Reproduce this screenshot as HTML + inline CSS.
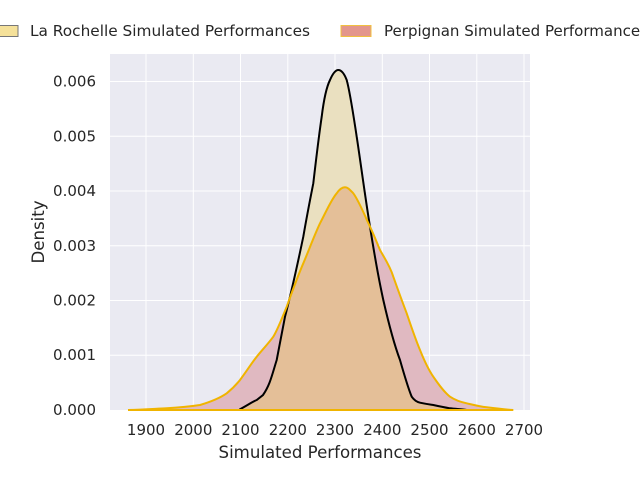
<!DOCTYPE html>
<html><head><style>body{margin:0;background:#fff}svg{display:block;font-family:"DejaVu Sans","Liberation Sans",sans-serif}</style></head><body>
<svg width="640" height="480" viewBox="0 0 640 480">
<defs>
<path id="lr" d="M240,409.3 C248,405 252,402 256.7,400 L263,395 C270,385 272,375 276.7,360 L285,316.7 C292,290 298,262 303.3,236.7 C307,215 310,200 313.3,183.3 C316,160 319,135 321.7,116.7 C324,98 327,86 330,80 C333,73 336,70 338.3,70 C341,70 344,73 346.7,80 C350,92 353,112 356.7,136.7 C361,165 365,196 370,226.7 C374,252 378,276 383.3,300 C389,325 394,344 400,360 C404,374 408,388 411.7,396.7 C414,400 417,402 420,402.7 C426,404 430,404.5 433.3,405 C440,406.5 445,407.5 450,408.3 C456,409 462,409.3 466.7,410 L240,410 Z"/>
<path id="pp" d="M128,410 C145,409.5 155,408.8 166.7,408.3 C180,407.5 190,406.5 200,405 C210,402 220,398 226.7,393.3 C232,389 236,385 240,380 C246,372 251,364 256.7,356.7 C262,350 268,344 273.3,336.7 C278,329 282,318 286.7,306.7 C292,292 297,278 303.3,263.3 C309,250 314,236 320,223.3 C326,212 331,200 336.7,193.3 C339,190 342,187.3 345,187.3 C348,187.3 350,190 353.3,193.3 C359,201 364,214 370,226.7 C374,235 377,243 380,250 C385,259 390,266 393.3,276.7 C398,290 402,301 406.7,313.3 C411,326 415,338 420,350 C424,360 428,369 433.3,376.7 C439,385 444,392 450,396.7 C455,400 460,402 466.7,403.3 C474,405 480,406.5 486.7,407.3 C496,408.5 505,409.5 513.3,410 Z"/>
<clipPath id="clr"><use href="#lr"/></clipPath>
</defs>
<rect x="110" y="54" width="420" height="356" fill="#eaeaf2"/>
<g stroke="#fff" stroke-width="1">
<line x1="146" y1="54" x2="146" y2="410"/><line x1="193.3" y1="54" x2="193.3" y2="410"/><line x1="240.5" y1="54" x2="240.5" y2="410"/><line x1="287.8" y1="54" x2="287.8" y2="410"/><line x1="335" y1="54" x2="335" y2="410"/><line x1="382.3" y1="54" x2="382.3" y2="410"/><line x1="429.5" y1="54" x2="429.5" y2="410"/><line x1="476.8" y1="54" x2="476.8" y2="410"/><line x1="524" y1="54" x2="524" y2="410"/>
<line x1="110" y1="355.3" x2="530" y2="355.3"/><line x1="110" y1="300.5" x2="530" y2="300.5"/><line x1="110" y1="245.8" x2="530" y2="245.8"/><line x1="110" y1="191" x2="530" y2="191"/><line x1="110" y1="136.3" x2="530" y2="136.3"/><line x1="110" y1="81.5" x2="530" y2="81.5"/>
</g>
<use href="#pp" fill="#e0b9c1"/>
<use href="#lr" fill="#eae0c0"/>
<use href="#pp" fill="#e4bf98" clip-path="url(#clr)"/>
<use href="#lr" fill="none" stroke="#000" stroke-width="2"/>
<use href="#pp" fill="none" stroke="#f0b400" stroke-width="2"/>
<g font-size="15" fill="#262626">
<g text-anchor="middle">
<text x="146" y="435">1900</text><text x="193.3" y="435">2000</text><text x="240.5" y="435">2100</text><text x="287.8" y="435">2200</text><text x="335" y="435">2300</text><text x="382.3" y="435">2400</text><text x="429.5" y="435">2500</text><text x="476.8" y="435">2600</text><text x="524" y="435">2700</text>
</g>
<g text-anchor="end">
<text x="96" y="415">0.000</text><text x="96" y="360">0.001</text><text x="96" y="305.5">0.002</text><text x="96" y="250.8">0.003</text><text x="96" y="196">0.004</text><text x="96" y="141.3">0.005</text><text x="96" y="86.5">0.006</text>
</g>
<text x="320" y="458" text-anchor="middle" font-size="16.6">Simulated Performances</text>
<text transform="translate(44,232) rotate(-90)" text-anchor="middle" font-size="16.6">Density</text>
<rect x="-2" y="25.5" width="20" height="11" fill="#f5e19a" stroke="#777" stroke-width="1"/>
<text x="30" y="36" textLength="280" lengthAdjust="spacingAndGlyphs">La Rochelle Simulated Performances</text>
<rect x="341" y="25.5" width="30" height="11" fill="#e3968c" stroke="#f0c040" stroke-width="1"/>
<text x="384" y="36" textLength="264" lengthAdjust="spacingAndGlyphs">Perpignan Simulated Performances</text>
</g>
</svg>
</body></html>
